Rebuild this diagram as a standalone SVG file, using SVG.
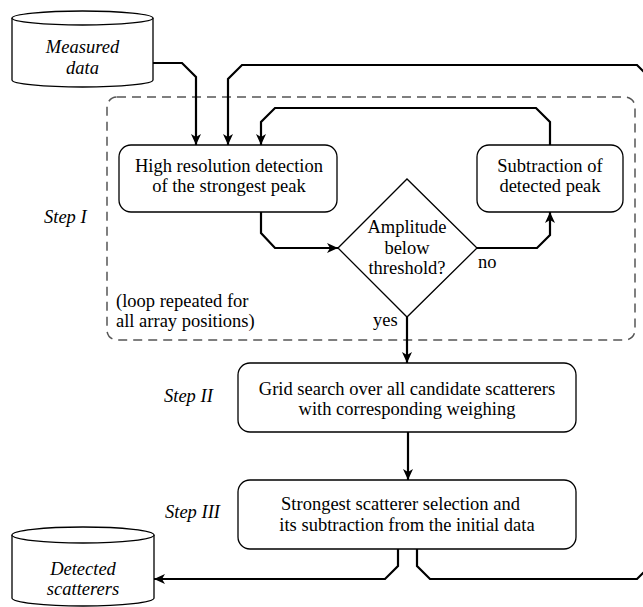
<svg xmlns="http://www.w3.org/2000/svg" width="643" height="607" viewBox="0 0 643 607" font-family="'Liberation Serif', 'Times New Roman', Times, 'DejaVu Serif', serif">
<style>
.box{fill:#fff;stroke:#000;stroke-width:1.3}
.dash{fill:none;stroke:#555;stroke-width:1.5;stroke-dasharray:9 6}
.con{fill:none;stroke:#000;stroke-width:2.2;stroke-linejoin:miter}
text{font-family:'Liberation Serif','Times New Roman',Times,'DejaVu Serif',serif;font-size:18.5px;fill:#000}
.c{text-anchor:middle}
.i{font-style:italic}
</style>
<defs>
<marker id="ah" markerUnits="userSpaceOnUse" markerWidth="14" markerHeight="12" viewBox="-12 -6 14 12" refX="0" refY="0" orient="auto">
<path d="M-11,-5 L0,0 L-11,5 L-8,0 Z" fill="#000"/>
</marker>
</defs>
<rect class="dash" x="107" y="97" width="528" height="243" rx="10"/>
<g id="measured">
<path class="box" d="M12,18 V80 A70.5,7 0 0 0 153,80 V18"/>
<ellipse class="box" cx="82.5" cy="18" rx="70.5" ry="7"/>
<text class="c i" x="82.5" y="53">Measured</text>
<text class="c i" x="82.5" y="74">data</text>
</g>
<g id="detected">
<path class="box" d="M12,535 V598 A71,8 0 0 0 154,598 V535"/>
<ellipse class="box" cx="83" cy="535" rx="71" ry="8"/>
<text class="c i" x="83" y="575">Detected</text>
<text class="c i" x="83" y="595">scatterers</text>
</g>
<g id="highres">
<rect class="box" x="119" y="145" width="218" height="67" rx="12"/>
<text class="c" x="229" y="172">High resolution detection</text>
<text class="c" x="229" y="192">of the strongest peak</text>
</g>
<g id="subtraction">
<rect class="box" x="477" y="145" width="146" height="67" rx="12"/>
<text class="c" x="550" y="172">Subtraction of</text>
<text class="c" x="550" y="192">detected peak</text>
</g>
<g id="decision">
<polygon class="box" points="338,248 407,179 477,248 407,317"/>
<text class="c" x="407" y="233">Amplitude</text>
<text class="c" x="407" y="254">below</text>
<text class="c" x="407" y="274">threshold?</text>
</g>
<g id="stepII">
<rect class="box" x="238" y="363" width="338" height="69" rx="12"/>
<text class="c" x="407" y="395">Grid search over all candidate scatterers</text>
<text class="c" x="407" y="415">with corresponding weighing</text>
</g>
<g id="stepIII">
<rect class="box" x="238" y="480" width="338" height="69" rx="12"/>
<text class="c" x="400.5" y="510">Strongest scatterer selection and</text>
<text class="c" x="407" y="531">its subtraction from the initial data</text>
</g>
<g id="labels">
<text class="i" x="44" y="223">Step I</text>
<text class="i" x="164" y="402">Step II</text>
<text class="i" x="165" y="518">Step III</text>
<text x="116" y="307">(loop repeated for</text>
<text x="116" y="327">all array positions)</text>
<text x="478" y="268">no</text>
<text x="373" y="326">yes</text>
</g>
<g id="connectors">
<path class="con" d="M153,63 H182 L196,77 V145" marker-end="url(#ah)"/>
<path class="con" d="M417,549 V566 L430,579 H637 L650,566 V78 L637,65 H242 L228,79 V145" marker-end="url(#ah)"/>
<path class="con" d="M550,145 V122 L536,108 H275 L261,122 V145" marker-end="url(#ah)"/>
<path class="con" d="M261,212 V233 L275,248 H338" marker-end="url(#ah)"/>
<path class="con" d="M477,248 H537 L550,235 V212" marker-end="url(#ah)"/>
<path class="con" d="M407,317 V363" marker-end="url(#ah)"/>
<path class="con" d="M408,432 V480" marker-end="url(#ah)"/>
<path class="con" d="M398,549 V566 L385,579 H154" marker-end="url(#ah)"/>
</g>
</svg>
